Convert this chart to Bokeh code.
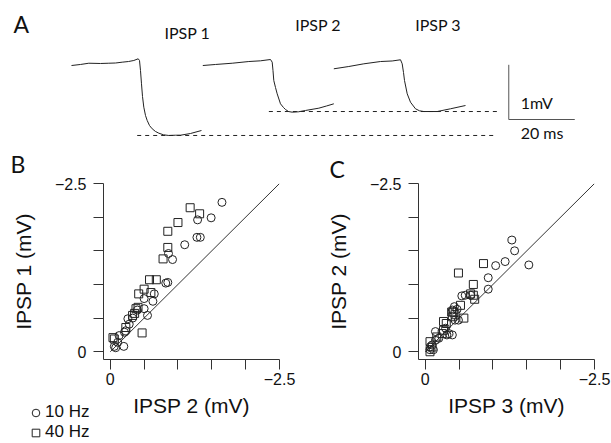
from bokeh.plotting import figure
from bokeh.models import Range1d, FixedTicker, Label, Legend, LegendItem, GridBox
from bokeh.embed import file_html
from bokeh.resources import INLINE

# ---------------- Panel A: example traces (display time in ms, membrane potential in mV) ----------------
trace1_t = [19.09, 21.82, 24.33, 27.88, 30.39, 32.42, 34.45, 36.36, 37.97, 39.30, 39.70, 40.00, 40.30, 40.61,
            41.00, 41.52, 42.03, 42.73, 43.55, 44.55, 45.55, 46.97, 48.58, 50.61, 52.12, 55.15, 58.48]
trace1_v = [-0.110, -0.091, -0.068, -0.073, -0.068, -0.064, -0.049, -0.037, -0.018, 0.013, -0.018, -0.201,
            -0.444, -0.676, -0.872, -1.024, -1.115, -1.207, -1.267, -1.316, -1.347, -1.377, -1.389, -1.384,
            -1.384, -1.353, -1.298]
trace2_t = [58.88, 62.73, 67.79, 72.82, 76.36, 79.39, 79.91, 80.15, 80.39, 80.91, 81.42, 82.42, 83.33, 83.94,
            84.85, 85.97, 87.88, 90.00, 94.03, 96.36, 98.58]
trace2_v = [-0.110, -0.091, -0.068, -0.037, -0.024, 0.000, -0.049, -0.201, -0.384, -0.512, -0.627, -0.810,
            -0.878, -0.914, -0.951, -0.963, -0.956, -0.932, -0.890, -0.850, -0.810]
trace3_t = [98.58, 103.12, 107.67, 112.73, 116.27, 118.79, 119.30, 119.70, 120.00, 120.82, 121.82, 123.33,
            124.55, 125.85, 129.91, 133.94, 138.48]
trace3_v = [-0.170, -0.128, -0.079, -0.037, -0.027, -0.005, -0.079, -0.238, -0.384, -0.627, -0.781, -0.901,
            -0.938, -0.951, -0.951, -0.901, -0.841]

peak_level_mv = [-1.389, -0.951]        # IPSP1 peak, IPSP2/3 peak
peak_line_start_ms = [39.0, 78.9]
peak_line_end_ms = [147.5, 148.1]

trace_names = ["IPSP 1", "IPSP 2", "IPSP 3"]
trace_name_t = [54.2, 93.8, 130.2]
trace_name_v = [0.378, 0.530, 0.530]

scalebar_t0 = 151.6
scalebar_v0 = -1.097
scalebar_ms = 20
scalebar_mv = 1

# ---------------- Panel B: IPSP 1 vs IPSP 2 (mV) ----------------
b10_ipsp2 = [-1.65, -1.49, -1.29, -1.28, -1.33, -1.10, -0.86, -0.92, -0.82, -0.85, -0.65, -0.63, -0.50, -0.50,
             -0.55, -0.28, -0.26, -0.23, -0.21, -0.13, -0.11, -0.06, -0.08, -0.20, -0.40, -0.33]
b10_ipsp1 = [-2.22, -1.99, -1.96, -1.70, -1.70, -1.59, -1.46, -1.37, -1.02, -1.03, -0.86, -0.75, -0.79, -0.64,
             -0.54, -0.41, -0.49, -0.31, -0.29, -0.24, -0.14, -0.08, -0.06, -0.08, -0.62, -0.50]
b40_ipsp2 = [-1.18, -1.32, -1.00, -0.85, -0.85, -0.78, -0.58, -0.68, -0.50, -0.42, -0.60, -0.38, -0.41, -0.33,
             -0.36, -0.23, -0.47, -0.04, -0.06]
b40_ipsp1 = [-2.14, -2.05, -1.92, -1.79, -1.55, -1.38, -1.07, -1.07, -0.93, -0.86, -0.88, -0.64, -0.66, -0.54,
             -0.57, -0.36, -0.28, -0.21, -0.19]

# ---------------- Panel C: IPSP 2 vs IPSP 3 (mV) ----------------
c10_ipsp3 = [-1.28, -1.32, -1.18, -1.04, -1.53, -0.93, -0.93, -0.54, -0.59, -0.43, -0.40, -0.47, -0.49, -0.44,
             -0.30, -0.35, -0.40, -0.32, -0.20, -0.15, -0.10, -0.07, -0.12, -0.07, -0.15, -0.67]
c10_ipsp2 = [-1.66, -1.50, -1.34, -1.28, -1.29, -1.10, -0.93, -0.83, -0.84, -0.67, -0.62, -0.63, -0.47, -0.47,
             -0.35, -0.27, -0.25, -0.25, -0.20, -0.17, -0.10, -0.07, -0.03, -0.03, -0.30, -0.84]
c40_ipsp3 = [-0.86, -0.49, -0.71, -0.67, -0.71, -0.73, -0.52, -0.39, -0.42, -0.44, -0.40, -0.57, -0.27, -0.31,
             -0.27, -0.25, -0.17, -0.07, -0.10, -0.07]
c40_ipsp2 = [-1.31, -1.17, -1.00, -0.86, -0.84, -0.78, -0.69, -0.59, -0.59, -0.55, -0.52, -0.50, -0.45, -0.42,
             -0.32, -0.27, -0.22, -0.15, -0.07, 0.00]

axis_limit = -2.5
tick_values = [0, -0.5, -1.0, -1.5, -2.0, -2.5]
legend_labels = ["10 Hz", "40 Hz"]
panel_letters = ["A", "B", "C"]

SANS = "Liberation Sans"
HUM = "Lato"
INK = "#222222"
AXC = "#333333"
TXT = "#111111"
MV_PER_PX = 1 / 54.7   # panel A vertical scale
TOP_H = 150
BOT_H = 293


def lift_px(fs):
    # Bokeh's alphabetic baseline sits ~0.4 em low; compensate
    return 0.4 * fs


# ---------------- Panel A figure ----------------
pa = figure(width=611, height=TOP_H, x_range=Range1d(-2.424, 182.727),
            y_range=Range1d((59 - TOP_H) * MV_PER_PX, 59 * MV_PER_PX),
            output_backend="svg", toolbar_location=None, x_axis_location=None, y_axis_location=None,
            min_border=0, outline_line_color=None, frame_align=False)
pa.grid.visible = False
for tt, vv in [(trace1_t, trace1_v), (trace2_t, trace2_v), (trace3_t, trace3_v)]:
    pa.line(tt, vv, line_color=INK, line_width=1)
pa.segment(x0=peak_line_start_ms, y0=peak_level_mv, x1=peak_line_end_ms, y1=peak_level_mv,
           line_color=INK, line_width=1, line_dash="4 4")
pa.segment(x0=[scalebar_t0, scalebar_t0], y0=[scalebar_v0, scalebar_v0],
           x1=[scalebar_t0, scalebar_t0 + scalebar_ms], y1=[scalebar_v0 + scalebar_mv, scalebar_v0],
           line_color="#555555", line_width=1)
for name, tt, vv in zip(trace_names, trace_name_t, trace_name_v):
    pa.add_layout(Label(x=tt, y=vv + lift_px(16) * MV_PER_PX, text=name, text_align="center",
                        text_baseline="alphabetic", text_font=HUM, text_font_size="16px", text_color=TXT))
pa.add_layout(Label(x=scalebar_t0 + 3.6, y=scalebar_v0 + 0.2 + lift_px(16) * MV_PER_PX, text=f"{scalebar_mv}mV",
                    text_baseline="alphabetic", text_font=HUM, text_font_size="16px", text_color=TXT))
pa.add_layout(Label(x=scalebar_t0 + 3.6, y=scalebar_v0 - 0.347 + lift_px(16) * MV_PER_PX,
                    text=f"{scalebar_ms} ms", text_baseline="alphabetic", text_font=HUM,
                    text_font_size="16px", text_color=TXT))
pa.add_layout(Label(x=13, y=TOP_H - 33 + lift_px(23), x_units="screen", y_units="screen", text=panel_letters[0],
                    text_baseline="alphabetic", text_font=HUM, text_font_size="23px", text_color=TXT))


def scatter_panel(width, left_border, right_border, xlab, ylab, x10, y10, x40, y40):
    p = figure(width=width, height=BOT_H, x_range=Range1d(0.1, axis_limit), y_range=Range1d(0.115, axis_limit),
               output_backend="svg", toolbar_location=None, min_border_left=left_border,
               min_border_right=right_border, min_border_top=33, min_border_bottom=BOT_H - 33 - 176,
               outline_line_color=None, frame_align=False)
    p.grid.visible = False
    p.line([0, axis_limit], [0, axis_limit], line_color=AXC, line_width=1)
    p.scatter(x10, y10, marker="circle", size=8, fill_color=None, line_color=INK, line_width=1)
    p.scatter(x40, y40, marker="square", size=8, fill_color=None, line_color=INK, line_width=1)
    for ax in (p.xaxis[0], p.yaxis[0]):
        ax.ticker = FixedTicker(ticks=[0, axis_limit], minor_ticks=tick_values[1:-1])
        ax.axis_line_color = AXC
        ax.major_tick_line_color = AXC
        ax.minor_tick_line_color = AXC
        ax.major_tick_out = 10
        ax.major_tick_in = 0
        ax.minor_tick_out = 10
        ax.minor_tick_in = 0
        ax.major_label_text_font = SANS
        ax.major_label_text_font_size = "16px"
        ax.major_label_text_color = TXT
        ax.major_label_overrides = {axis_limit: "\u22122.5"}
        ax.axis_label_text_font = SANS
        ax.axis_label_text_font_size = "21px"
        ax.axis_label_text_font_style = "normal"
        ax.axis_label_text_color = TXT
    p.xaxis.axis_label = xlab
    p.yaxis.axis_label = ylab
    p.yaxis.major_label_standoff = 7
    p.xaxis.major_label_standoff = 3
    p.yaxis.axis_label_standoff = 17
    p.xaxis.axis_label_standoff = 6
    return p


pb = scatter_panel(323, 103, 44, "IPSP 2 (mV)", "IPSP 1 (mV)", b10_ipsp2, b10_ipsp1, b40_ipsp2, b40_ipsp1)
pc = scatter_panel(288, 95, 17, "IPSP 3 (mV)", "IPSP 2 (mV)", c10_ipsp3, c10_ipsp2, c40_ipsp3, c40_ipsp2)

# ---------------- transparent overlay carrying panel letters B, C and the shared legend ----------------
# The overlay re-plots panel B's two series on a positive-only range, so the points themselves fall
# outside its (clipped) frame and only their legend entries show.
pov = figure(width=611, height=BOT_H, x_range=Range1d(0, 1), y_range=Range1d(0, 1), output_backend="svg",
             toolbar_location=None, x_axis_location=None, y_axis_location=None, min_border=0,
             outline_line_color=None, background_fill_alpha=0, border_fill_alpha=0, frame_align=False)
pov.grid.visible = False
k10 = pov.scatter(b10_ipsp2, b10_ipsp1, marker="circle", size=8, fill_color=None, line_color=INK, line_width=1)
k40 = pov.scatter(b40_ipsp2, b40_ipsp1, marker="square", size=8, fill_color=None, line_color=INK, line_width=1)
for letter, lx, lbase in [(panel_letters[1], 10, 173), (panel_letters[2], 329, 178)]:
    pov.add_layout(Label(x=lx, y=443 - lbase + lift_px(23), x_units="screen", y_units="screen", text=letter,
                         text_baseline="alphabetic", text_font=HUM, text_font_size="23px", text_color=TXT))
leg = Legend(items=[LegendItem(label=legend_labels[0], renderers=[k10]),
                    LegendItem(label=legend_labels[1], renderers=[k40])],
             location=(26, 1), orientation="vertical", padding=0, margin=0, spacing=0,
             glyph_width=19, glyph_height=19, label_height=17, label_standoff=-3,
             label_text_font=SANS, label_text_font_size="17px", label_text_color=TXT,
             background_fill_alpha=0, border_line_alpha=0)
pov.add_layout(leg, "center")

layout = GridBox(children=[(pa, 0, 0, 1, 2), (pb, 1, 0), (pc, 1, 1), (pov, 1, 0, 1, 2)], spacing=0)
open("out.html", "w").write(file_html(layout, INLINE))
